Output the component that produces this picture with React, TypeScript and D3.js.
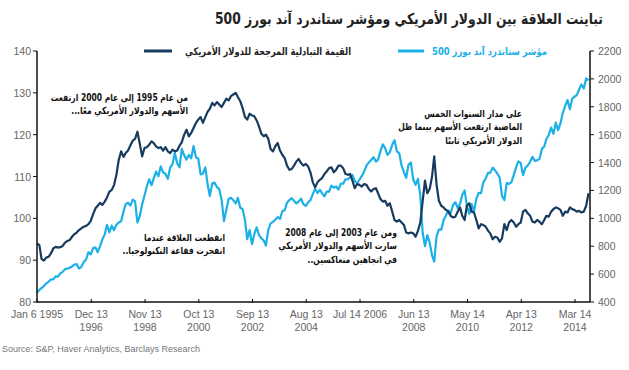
import React from "react";
import * as d3 from "d3";

// monthly readings, first point Jan 6 1995
const startDate = new Date(1995, 0, 6);

const usdIndex = [
  94.0, 93.6, 90.3, 89.9, 90.6, 90.8, 91.6, 92.8, 93.2, 93.0, 93.1, 93.4,
  94.2, 94.6, 94.8, 95.6, 96.2, 96.6, 97.2, 97.6, 98.0, 98.2, 98.6, 99.4,
  101.0, 102.4, 103.0, 103.7, 103.2, 104.0, 105.0, 106.4, 106.8, 108.0, 110.5, 114.0,
  116.0, 114.7, 115.6, 116.2, 117.4, 118.6, 119.0, 120.7, 117.8, 114.8, 116.8, 117.0,
  117.6, 118.4, 118.0, 117.2, 116.8, 117.0, 116.2, 117.0, 116.0, 115.6, 116.4, 116.0,
  116.2, 117.4, 118.2, 120.0, 121.2, 119.6, 120.4, 121.6, 122.8, 123.6, 124.2, 122.8,
  124.2, 125.5, 126.2, 127.6, 127.0, 127.8, 127.2, 126.6, 127.6, 128.6, 128.2, 129.2,
  129.6, 130.0, 129.0, 128.0, 126.4, 124.2, 123.6, 125.0, 124.6, 124.4, 123.4, 122.0,
  120.2, 119.6, 120.0, 119.0, 116.6, 116.0, 117.2, 118.0, 116.2, 115.2, 114.4, 112.6,
  111.6, 111.8, 112.6, 113.6, 114.2, 113.2, 112.6, 113.0, 112.4, 111.0, 108.6, 107.4,
  108.6, 109.2, 109.6, 110.6, 111.2, 112.0, 112.2, 111.0, 111.6, 112.6, 112.6, 112.0,
  110.6, 110.4, 110.6, 109.0, 107.2, 108.2, 108.0, 107.6, 108.2, 108.0, 107.0, 106.4,
  107.0, 107.2, 106.0, 104.6, 104.0, 104.2, 103.0, 103.6, 101.6, 99.6, 99.2, 99.6,
  99.0, 98.4, 96.6, 96.4, 96.6, 96.4, 95.6, 97.0, 99.0, 104.0, 109.0, 106.0,
  107.0, 110.0, 114.8, 108.0, 104.2, 103.0, 102.6, 102.0, 101.6, 100.6, 100.2, 100.4,
  101.6, 102.6, 100.6, 99.6, 103.0, 103.6, 101.6, 101.4, 99.6, 97.6, 98.6, 98.4,
  98.0, 97.0, 96.4, 95.0, 95.6, 95.4, 94.4, 95.2, 98.6, 97.2, 99.0, 99.6,
  99.0, 98.0, 98.6, 99.0, 101.6, 102.0, 101.2, 100.6, 99.2, 99.0, 99.6, 99.2,
  98.6, 99.6, 100.6, 100.4, 101.6, 102.2, 102.6, 102.4, 102.0, 100.6, 101.6, 101.4,
  102.6, 102.2, 102.0, 101.6, 101.8, 101.4, 101.6, 103.0, 106.0,
];

const sp500 = [
  465, 487, 500, 515, 533, 545, 562, 562, 584, 582, 605, 616,
  636, 640, 645, 654, 669, 671, 640, 652, 687, 705, 757, 741,
  786, 791, 757, 801, 848, 885, 954, 899, 947, 915, 955, 970,
  980, 1049, 1102, 1112, 1091, 1134, 1121, 970, 1017, 1099, 1164, 1229,
  1280, 1238, 1286, 1335, 1302, 1373, 1329, 1320, 1283, 1363, 1389, 1469,
  1394, 1366, 1499, 1452, 1421, 1455, 1431, 1518, 1437, 1429, 1315, 1320,
  1366, 1240, 1160, 1249, 1256, 1224, 1211, 1134, 980, 1060, 1139, 1148,
  1130, 1107, 1147, 1076, 1067, 990, 850, 916, 815, 886, 936, 880,
  856, 841, 805, 917, 964, 975, 990, 1008, 996, 1051, 1058, 1112,
  1131, 1145, 1126, 1107, 1121, 1141, 1102, 1090, 1115, 1130, 1174, 1212,
  1181, 1204, 1181, 1157, 1192, 1191, 1234, 1220, 1229, 1207, 1249, 1248,
  1280, 1281, 1295, 1311, 1270, 1250, 1277, 1304, 1336, 1378, 1401, 1418,
  1438, 1407, 1421, 1482, 1531, 1503, 1455, 1474, 1527, 1560, 1481, 1468,
  1379, 1331, 1290, 1386, 1400, 1280, 1240, 1283, 1165, 900, 800, 880,
  826, 735, 690, 873, 919, 919, 987, 1021, 1057, 1036, 1096, 1115,
  1074, 1104, 1169, 1200, 1089, 1031, 1102, 1049, 1141, 1183, 1181, 1258,
  1286, 1327, 1326, 1364, 1345, 1321, 1292, 1160, 1131, 1253, 1247, 1258,
  1312, 1366, 1408, 1398, 1310, 1362, 1379, 1406, 1441, 1412, 1416, 1426,
  1498, 1515, 1569, 1598, 1651, 1606, 1686, 1633, 1682, 1757, 1806, 1848,
  1783, 1859, 1872, 1884, 1924, 1960, 1931, 2003, 1990,
];

const xTickDates = [
  new Date(1995, 0, 6), new Date(1996, 11, 13), new Date(1998, 10, 13),
  new Date(2000, 9, 13), new Date(2002, 8, 13), new Date(2004, 7, 13),
  new Date(2006, 6, 14), new Date(2008, 5, 13), new Date(2010, 4, 14),
  new Date(2012, 3, 13), new Date(2014, 2, 14),
];
const xTickLabels = [
  ["Jan 6 1995", ""], ["Dec 13", "1996"], ["Nov 13", "1998"], ["Oct 13", "2000"],
  ["Sep 13", "2002"], ["Aug 13", "2004"], ["Jul 14 2006", ""], ["Jun 13", "2008"],
  ["May 14", "2010"], ["Apr 13", "2012"], ["Mar 14", "2014"],
];
const leftTicks = [80, 90, 100, 110, 120, 130, 140];
const rightTicks = [400, 600, 800, 1000, 1200, 1400, 1600, 1800, 2000, 2200];

const title = "تباينت العلاقة بين الدولار الأمريكي ومؤشر ستاندرد آند بورز 500";
const legendUsd = "القيمة التبادلية المرجحة للدولار الأمريكي";
const legendSp = "مؤشر ستاندرد آند بورز 500";
const notes = [
  { x: 188, y: 101, lines: ["من عام 1995 إلى عام 2000 ارتفعت", "الأسهم والدولار الأمريكي معًا..."] },
  { x: 225, y: 241, lines: ["انقطعت العلاقة عندما", "انفجرت فقاعة التكنولوجيا.."] },
  { x: 397, y: 236, lines: ["ومن عام 2003 إلى عام 2008", "سارت الأسهم والدولار الأمريكي", "في اتجاهين متعاكسين.."] },
  { x: 522, y: 117, lines: ["على مدار السنوات الخمس", "الماضية ارتفعت الأسهم بينما ظل", "الدولار الأمريكي ثابتًا"] },
];

const DARK = "#173b5e";
const LIGHT = "#1bb1e7";
const AR = "'DejaVu Sans Condensed', 'DejaVu Sans', sans-serif";
const NUM = "'Liberation Sans Narrow', 'Liberation Sans', sans-serif";

export default function App() {
  const W = 629, H = 370;
  const left = 37, right = 590, top = 51, bottom = 302;

  const x = d3.scaleTime()
    .domain([startDate, new Date(2014, 8, 25)])
    .range([left, right]);
  const yL = d3.scaleLinear().domain([80, 140]).range([bottom, top]);
  const yR = d3.scaleLinear().domain([400, 2200]).range([bottom, top]);

  const dates = usdIndex.map((_, i) => d3.timeMonth.offset(startDate, i));

  const usdLine = d3.line<number>()
    .x((_, i) => x(dates[i]))
    .y((d) => yL(d));
  const spLine = d3.line<number>()
    .x((_, i) => x(dates[i]))
    .y((d) => yR(d));

  return (
    <svg width={W} height={H} style={{ position: "absolute", left: 0, top: 0, background: "#fff" }}>
      <text x={603} y={24} textAnchor="start" direction="rtl" fontFamily={AR} fontWeight="bold" fontSize={15}
        fill="#222" textLength={388} lengthAdjust="spacingAndGlyphs">
        {title}
      </text>

      {/* legend */}
      <line x1={144} x2={172} y1={51} y2={51} stroke={DARK} strokeWidth={3} />
      <text x={351} y={55} textAnchor="start" direction="rtl" fontFamily={AR} fontWeight="bold" fontSize={10.5}
        fill="#222" textLength={166} lengthAdjust="spacingAndGlyphs">{legendUsd}</text>
      <line x1={398} x2={424} y1={51} y2={51} stroke={LIGHT} strokeWidth={3} />
      <text x={547} y={55} textAnchor="start" direction="rtl" fontFamily={AR} fontWeight="bold" fontSize={10.5}
        fill={LIGHT} textLength={115} lengthAdjust="spacingAndGlyphs">{legendSp}</text>

      {/* lines */}
      <path d={spLine(sp500) ?? ""} fill="none" stroke={LIGHT} strokeWidth={2.2} strokeLinejoin="round" />
      <path d={usdLine(usdIndex) ?? ""} fill="none" stroke={DARK} strokeWidth={2.2} strokeLinejoin="round" />

      {/* axes */}
      <line x1={left} x2={left} y1={top} y2={bottom} stroke="#111" strokeWidth={1.5} />
      <line x1={right} x2={right} y1={top} y2={bottom} stroke="#111" strokeWidth={1.5} />
      <line x1={left} x2={right} y1={bottom} y2={bottom} stroke="#111" strokeWidth={1.5} />
      {leftTicks.map((t) => (
        <g key={"l" + t}>
          <line x1={left - 4} x2={left} y1={yL(t)} y2={yL(t)} stroke="#111" />
          <text x={left - 6} y={yL(t) + 4} textAnchor="end" fontFamily={NUM} fontSize={10.5} fill="#666">{t}</text>
        </g>
      ))}
      {rightTicks.map((t) => (
        <g key={"r" + t}>
          <line x1={right} x2={right + 4} y1={yR(t)} y2={yR(t)} stroke="#111" />
          <text x={right + 8} y={yR(t) + 4} fontFamily={NUM} fontSize={10.5} fill="#666">{t}</text>
        </g>
      ))}
      {xTickDates.map((d, i) => (
        <g key={"x" + i}>
          <line x1={x(d)} x2={x(d)} y1={bottom - 3} y2={bottom + 1} stroke="#111" />
          <text x={x(d)} y={318} textAnchor="middle" fontFamily={NUM} fontSize={10.5} fill="#666">{xTickLabels[i][0]}</text>
          <text x={x(d)} y={331} textAnchor="middle" fontFamily={NUM} fontSize={10.5} fill="#666">{xTickLabels[i][1]}</text>
        </g>
      ))}

      {/* annotations, condensed horizontally around their right edge */}
      {notes.map((n, i) => (
        <g key={"n" + i} transform={`translate(${n.x},0) scale(0.86,1)`}>
          <text textAnchor="start" direction="rtl" fontFamily={AR} fontWeight="bold" fontSize={9.8} fill="#111">
            {n.lines.map((l, j) => (
              <tspan key={j} x={0} y={n.y + j * 13.5}>{l}</tspan>
            ))}
          </text>
        </g>
      ))}

      <text x={2} y={352} fontFamily={NUM} fontSize={9} fill="#777">Source: S&amp;P, Haver Analytics, Barclays Research</text>
    </svg>
  );
}
